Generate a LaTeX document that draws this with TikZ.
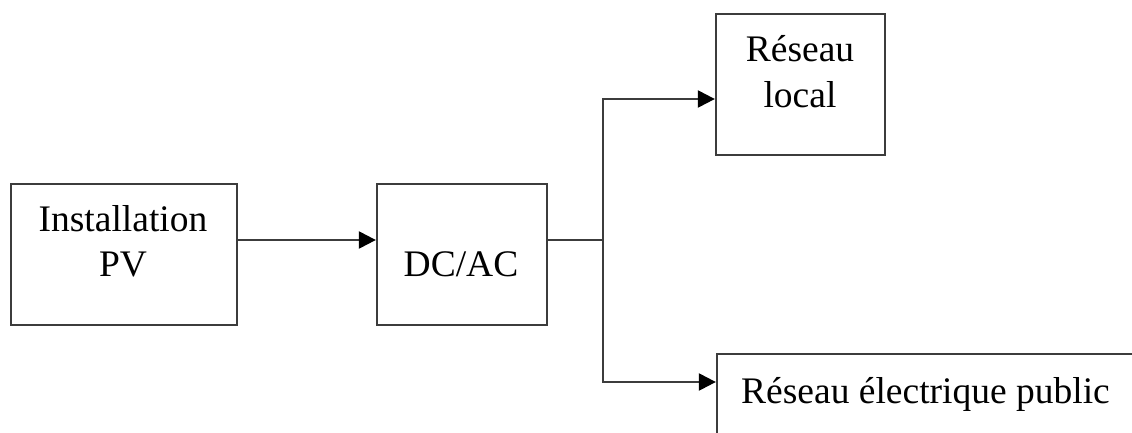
\documentclass[tikz,border=0pt]{standalone}
\usepackage{fontspec}
\setmainfont{Liberation Serif}
\usetikzlibrary{arrows.meta,fit}
\definecolor{edgegray}{HTML}{3C3C3C}
\begin{document}
\begin{tikzpicture}[x=1pt,y=-1pt,
  box/.style={draw=edgegray, line width=2.3pt, inner sep=0pt, fill=white},
  lbl/.style={inner sep=0pt, anchor=base, font=\fontsize{37.5}{44}\selectfont},
  wire/.style={draw=edgegray, line width=2.3pt},
  flow/.style={wire, -{Triangle[length=17pt,width=17pt,color=black]}}]
\useasboundingbox (0,0) rectangle (1132,432);
\clip (0,0) rectangle (1132,432);
% blocks
\node[box, fit={(11,184) (237,325)}] (pv) {};
\node[box, fit={(377,184) (547,325)}] (dcac) {};
\node[box, fit={(716,14) (885,155)}] (local) {};
\node[box, fit={(717,354) (1160,460)}] (public) {};
% block texts
\node[lbl] (pv1) at (123,231) {Installation};
\node[lbl] (pv2) at (123,276) {PV};
\node[lbl] (dc1) at (461,276.5) {DC/AC};
\node[lbl] (loc1) at (800,61) {Réseau};
\node[lbl] (loc2) at (800,107) {local};
\node[lbl, anchor=base west] (pub1) at (741,403) {Réseau électrique public};
% bus junction and branch levels
\coordinate (bus) at (603,240);
\coordinate (bustop) at (603,99);
\coordinate (busbot) at (603,382);
% connectors
\draw[flow] (pv.east |- bus) -- (dcac.west |- bus);
\draw[wire] (dcac.east |- bus) -- (bus);
\draw[flow] (bus) -- (bustop) -- (local.west |- bustop);
\draw[flow] (bus) -- (busbot) -- (public.west |- busbot);
\end{tikzpicture}
\end{document}
